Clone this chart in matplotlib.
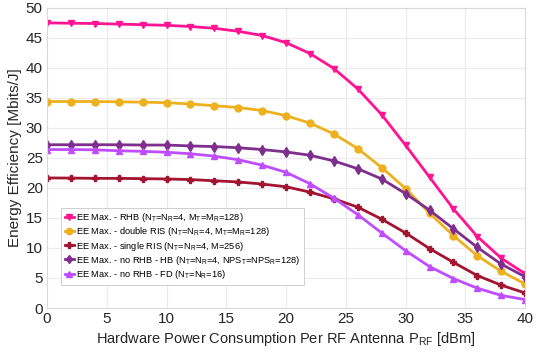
import matplotlib.pyplot as plt
import numpy as np

plt.rcParams['font.family'] = ['Liberation Sans', 'DejaVu Sans']

# transmit power per RF antenna [dBm]
prf = np.arange(0, 41, 2)

eeRHB = [47.5, 47.45, 47.4, 47.3, 47.2, 47.1, 46.9, 46.6, 46.1, 45.4, 44.2,
         42.4, 39.9, 36.5, 32.2, 27.1, 21.8, 16.5, 11.9, 8.3, 5.7]
eeDoubleRIS = [34.4, 34.4, 34.4, 34.35, 34.3, 34.2, 34.0, 33.7, 33.4, 32.9, 32.05,
               30.8, 29.0, 26.55, 23.4, 19.9, 15.8, 12.05, 8.7, 6.1, 4.0]
eeSingleRIS = [21.67, 21.65, 21.6, 21.6, 21.55, 21.5, 21.4, 21.2, 21.0, 20.65, 20.2,
               19.3, 18.2, 16.8, 14.8, 12.5, 9.9, 7.6, 5.4, 3.8, 2.5]
eeHB = [27.2, 27.2, 27.2, 27.2, 27.15, 27.15, 27.0, 26.9, 26.7, 26.4, 26.0,
        25.45, 24.5, 23.2, 21.5, 19.05, 16.3, 13.2, 10.1, 7.3, 5.2]
eeFD = [26.4, 26.4, 26.35, 26.2, 26.1, 25.95, 25.7, 25.3, 24.7, 23.8, 22.6,
        20.7, 18.3, 15.55, 12.5, 9.55, 6.9, 4.9, 3.3, 2.1, 1.4]

labels = [r'EE Max. - RHB (N$_\mathregular{T}$=N$_\mathregular{R}$=4, M$_\mathregular{T}$=M$_\mathregular{R}$=128)',
          r'EE Max. - double RIS (N$_\mathregular{T}$=N$_\mathregular{R}$=4, M$_\mathregular{T}$=M$_\mathregular{R}$=128)',
          r'EE Max. - single RIS (N$_\mathregular{T}$=N$_\mathregular{R}$=4, M=256)',
          r'EE Max. - no RHB - HB (N$_\mathregular{T}$=N$_\mathregular{R}$=4, NPS$_\mathregular{T}$=NPS$_\mathregular{R}$=128)',
          r'EE Max. - no RHB - FD (N$_\mathregular{T}$=N$_\mathregular{R}$=16)']

fig = plt.figure(figsize=(5.37, 3.51), dpi=100)
ax = fig.add_axes([0.0875, 0.1225, 0.8905, 0.855])

series = [(eeRHB, '#FF1493', 'v'),
          (eeDoubleRIS, '#EDB120', 'o'),
          (eeSingleRIS, '#A2142F', 'P'),
          (eeHB, '#7E2F8E', 'd'),
          (eeFD, '#BF4DFF', '^')]

for (vals, col, mk), lab in zip(series, labels):
    ax.plot(prf, vals, color=col, marker=mk, markersize=5, linewidth=2, label=lab)

ax.set_xlim(0, 40)
ax.set_ylim(0, 50)
ax.set_xticks(np.arange(0, 41, 5))
ax.set_yticks(np.arange(0, 51, 5))
ax.grid(True, color='#ebebeb', linewidth=0.8)
ax.set_axisbelow(True)
for s in ax.spines.values():
    s.set_color('#d9d9d9')
ax.tick_params(length=0, labelsize=11, colors='#262626', pad=3)

ax.set_xlabel(r'Hardware Power Consumption Per RF Antenna P$_\mathregular{RF}$ [dBm]',
              fontsize=10.5, color='#262626', labelpad=3)
ax.set_ylabel('Energy Efficiency [Mbits/J]', fontsize=11, color='#262626', labelpad=3)

leg = ax.legend(loc='lower left', bbox_to_anchor=(0.025, 0.072), fontsize=6.7,
                fancybox=False, framealpha=1, edgecolor='#c8c8c8',
                handlelength=1.0, handletextpad=0.2, borderpad=0.4, labelspacing=0.12,
                borderaxespad=0.2, markerscale=0.9)
leg.get_frame().set_linewidth(0.6)

fig.savefig('out.png', dpi=100)
